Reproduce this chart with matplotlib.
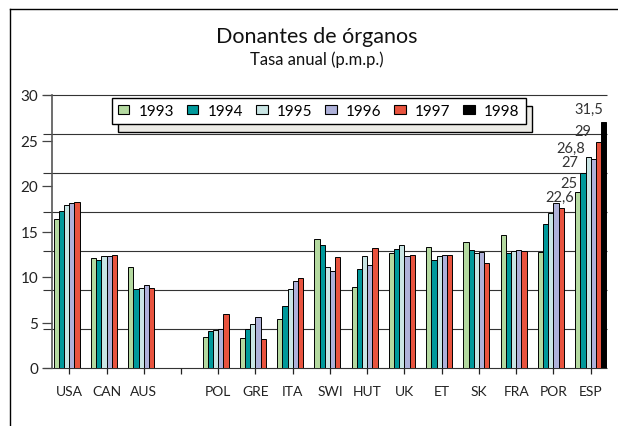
import numpy as np
import matplotlib.pyplot as plt
from matplotlib.lines import Line2D
from matplotlib.patches import Patch

# Datos (tasa anual p.m.p.)
paises = ["USA", "CAN", "AUS", "", "POL", "GRE", "ITA", "SWI", "HUT",
          "UK", "ET", "SK", "FRA", "POR", "ESP"]
anios = ["1993", "1994", "1995", "1996", "1997", "1998"]

nan = np.nan
v1993 = [19.1, 14.1, 13.0, nan, 4.0, 3.8, 6.3, 16.5, 10.4, 14.8, 15.5, 16.1, 17.0, 14.9, 22.6]
v1994 = [20.1, 13.9, 10.1, nan, 4.7, 5.0, 7.9, 15.8, 12.7, 15.2, 13.9, 15.1, 14.8, 18.4, 25.0]
v1995 = [20.9, 14.3, 10.3, nan, 4.9, 5.6, 10.1, 12.9, 14.3, 15.8, 14.3, 14.7, 15.0, 19.9, 27.0]
v1996 = [21.2, 14.3, 10.6, nan, 5.0, 6.5, 11.1, 12.5, 13.2, 14.4, 14.5, 14.9, 15.1, 21.2, 26.8]
v1997 = [21.3, 14.5, 10.3, nan, 6.9, 3.7, 11.6, 14.2, 15.4, 14.5, 14.5, 13.5, 15.0, 20.5, 29.0]
v1998 = [nan] * 14 + [31.5]

# etiquetas de España
etiquetas_esp = ["22,6", "25", "27", "26,8", "29", "31,5"]

# eje izquierdo tal como aparece en el original
ytick_labels = ["0", "5", "10", "15", "20", "25", "30"]

series = [v1993, v1994, v1995, v1996, v1997, v1998]
colores = ["#b4d9a0", "#00999b", "#c9e5e4", "#aeb1d9", "#e8533e", "#000000"]

plt.rcParams["font.family"] = ["Lato", "DejaVu Sans"]

fig = plt.figure(figsize=(6.18, 4.27), dpi=100)
ax = fig.add_axes([52 / 618, 1 - 369 / 427, (606.7 - 52) / 618, (369 - 96) / 427])

x = np.arange(len(paises))
w = 0.139
for i, (vals, c) in enumerate(zip(series, colores)):
    ax.bar(x + (i - 2.5) * w, vals, w, color=c, edgecolor="black",
           linewidth=0.7, zorder=2)

# lineas horizontales (cada 5 unidades)
x_left, x_right = -0.464, 14.43
ax.hlines(np.arange(0, 36, 5), x_left - 0.25, x_right, color="#333333",
          linewidth=0.8, clip_on=False, zorder=1)

# etiquetas de ESP, colocadas a mano como en el original
offsets = [(-4, -5), (-5, -10), (-10, -5), (-8, 11), (-7, 11), (0, 13)]
for i, (txt, off) in enumerate(zip(etiquetas_esp, offsets)):
    ax.annotate(txt, xy=(14 + (i - 2.5) * w, series[i][14]), xytext=off,
                textcoords="offset pixels", ha="right", va="center",
                fontsize=10.5, color="#333333", zorder=3)

ax.set_xlim(x_left, x_right)
ax.set_ylim(0, 35)
ax.set_xticks(x)
ax.set_xticklabels(paises, fontsize=10, color="#222222")
ax.set_yticks(np.linspace(0, 35, 7))
ax.set_yticklabels(ytick_labels, fontsize=11, color="#222222")
ax.tick_params(axis="y", length=7, width=0.9, color="#444444", pad=3)
ax.tick_params(axis="x", length=4.5, width=0.9, color="#222222", pad=8)

for s in ["top", "right", "bottom"]:
    ax.spines[s].set_visible(False)
ax.spines["left"].set_color("#555555")
ax.spines["left"].set_linewidth(1.2)

# leyenda con sombra
handles = [Patch(facecolor=c, edgecolor="black", linewidth=0.8) for c in colores]
leg = ax.legend(handles, anios, ncol=6, loc="lower left", mode="expand",
                bbox_to_anchor=(111.7 / 618, 1 - 125 / 427, 414 / 618, 24 / 427),
                bbox_transform=fig.transFigure, borderaxespad=0,
                fontsize=11, handlelength=0.75, handleheight=0.45,
                handletextpad=0.6, borderpad=0.4, fancybox=False,
                shadow={"ox": 4.3, "oy": -5.8, "facecolor": "#ecebe6",
                        "edgecolor": "black", "alpha": 1, "linewidth": 1})
leg.get_frame().set_edgecolor("black")
leg.get_frame().set_linewidth(1.0)
leg.set_zorder(5)

# titulos
fig.text(317 / 618, 1 - 37 / 427, "Donantes de órganos", ha="center",
         va="center", fontsize=15.5, color="#111111")
fig.text(317 / 618, 1 - 60 / 427, "Tasa anual (p.m.p.)", ha="center",
         va="center", fontsize=12, color="#111111")

# marco exterior
fig.add_artist(Line2D([9.5 / 618, 9.5 / 618], [0, 1 - 9.5 / 427], color="black", lw=1))
fig.add_artist(Line2D([9.5 / 618, 1], [1 - 9.5 / 427, 1 - 9.5 / 427], color="black", lw=1))

fig.savefig("out.png", dpi=100)
